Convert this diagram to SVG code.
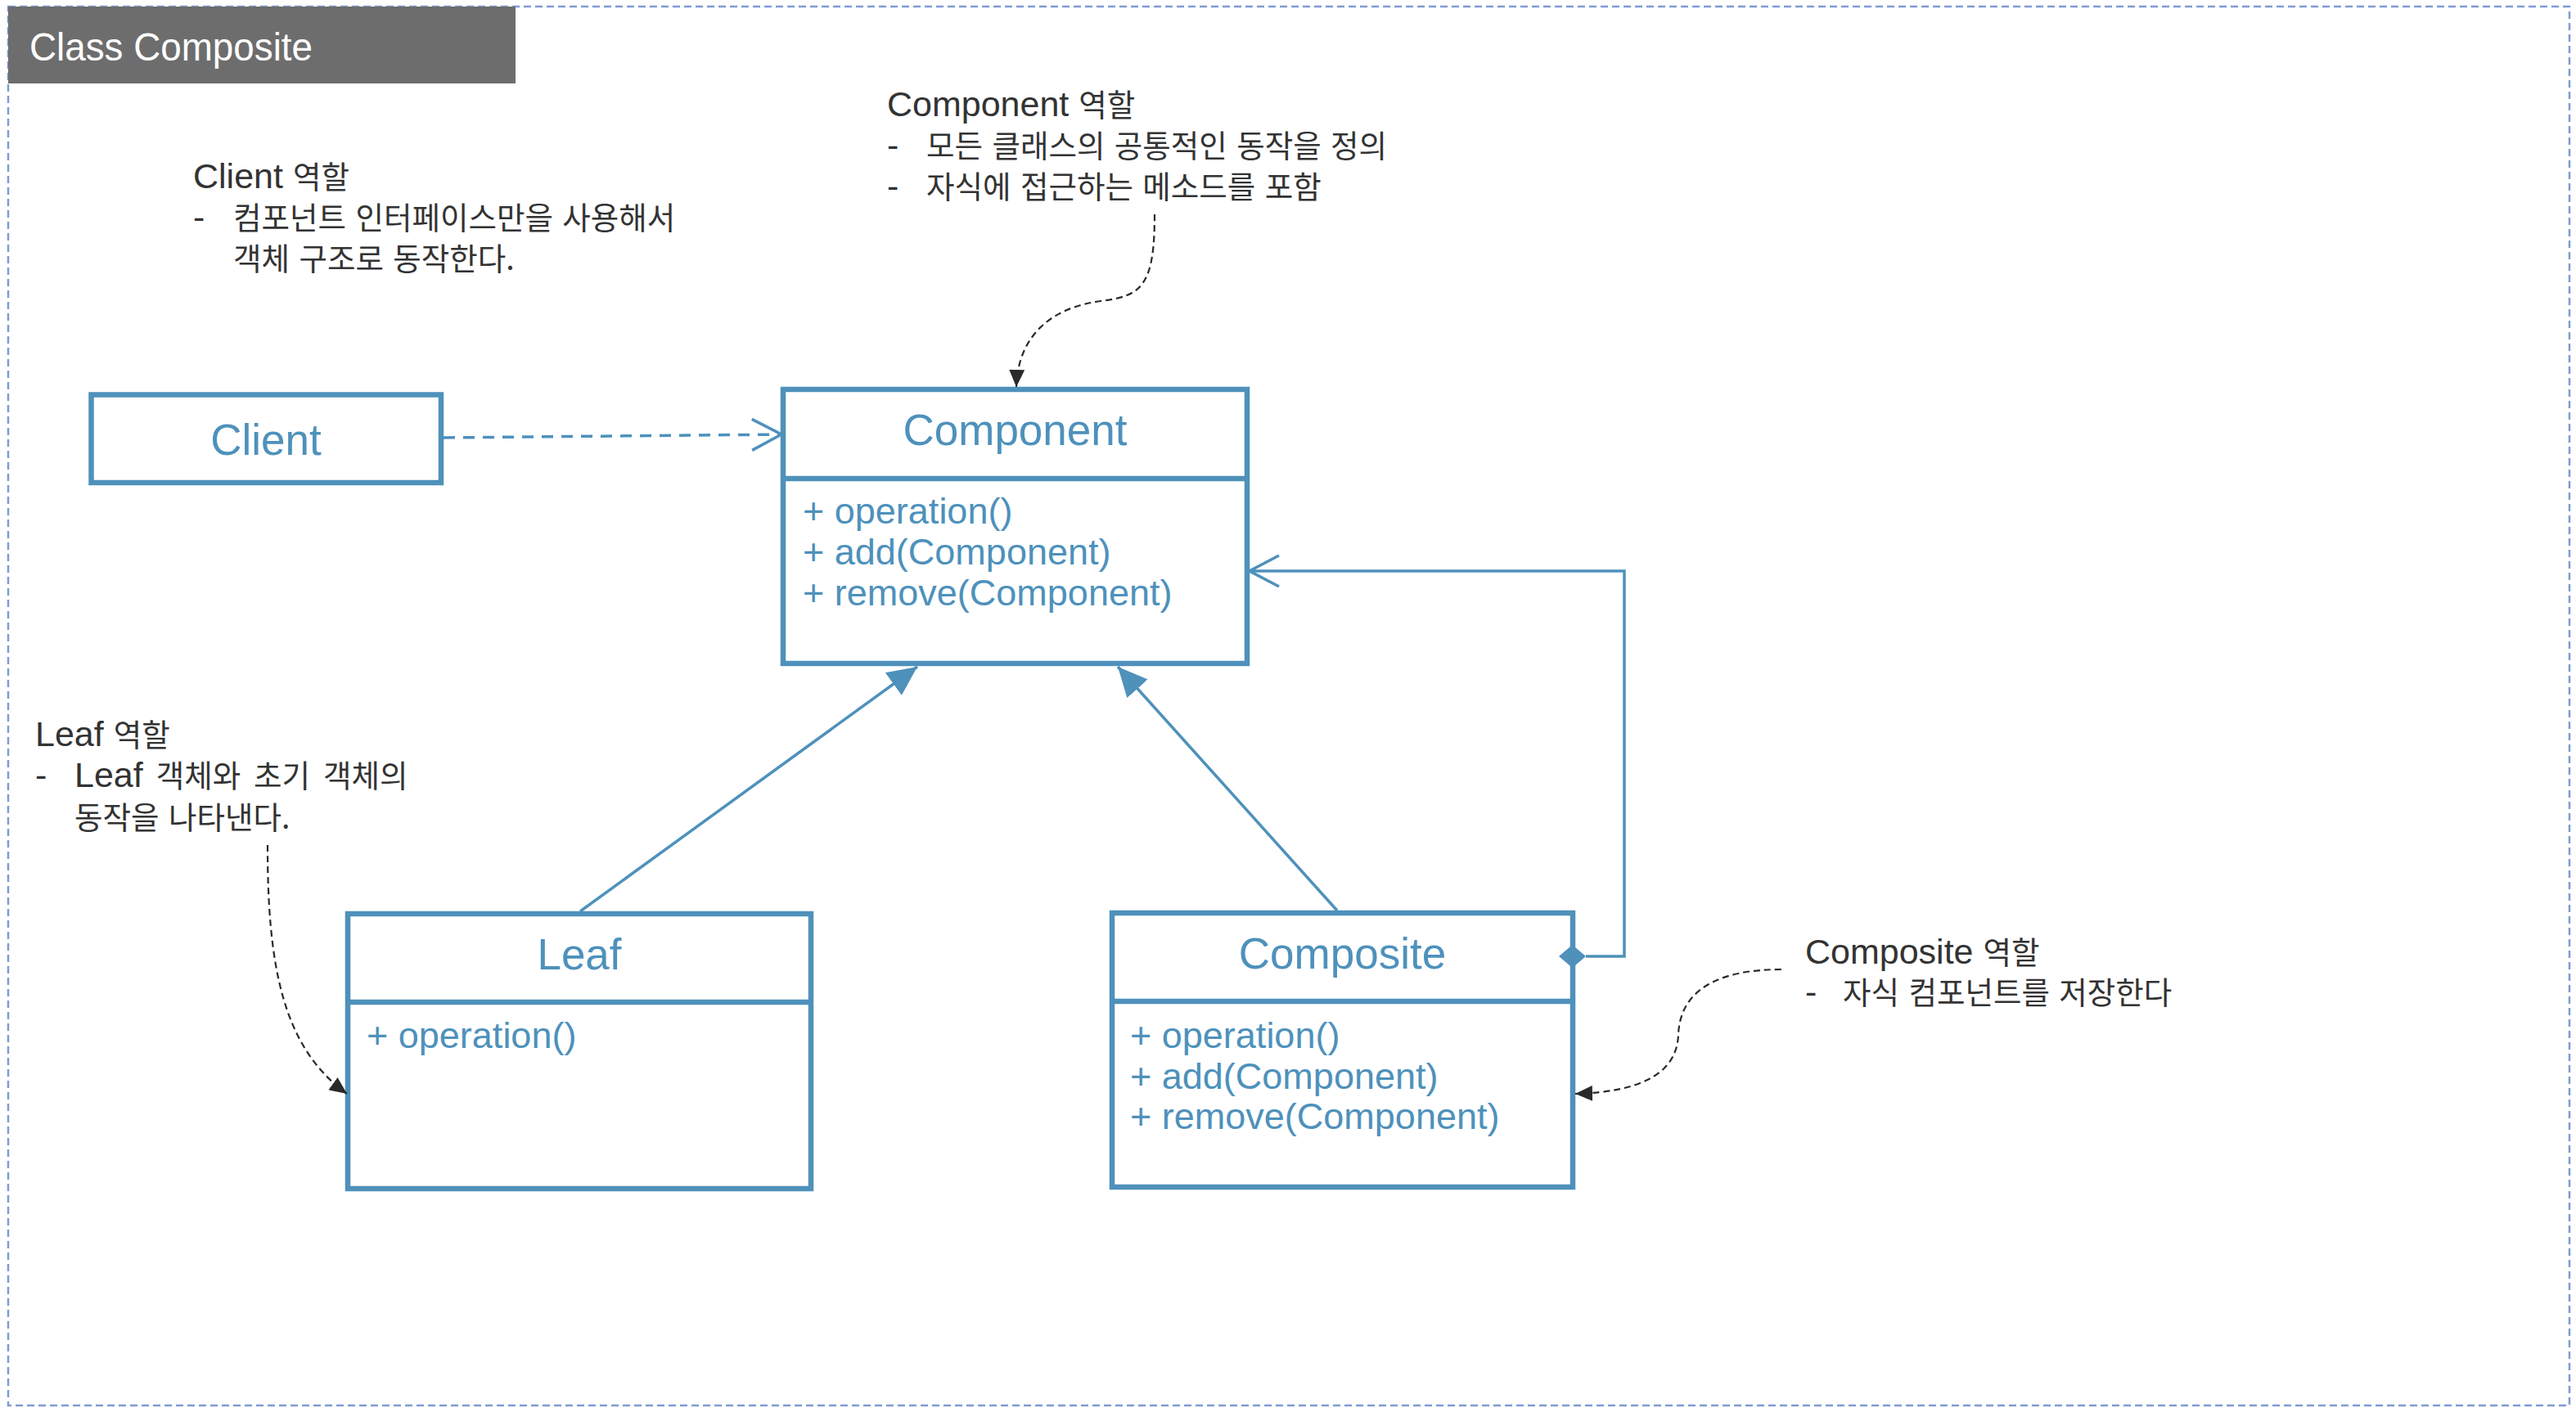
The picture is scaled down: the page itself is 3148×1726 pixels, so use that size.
<svg xmlns="http://www.w3.org/2000/svg" width="3148" height="1726" viewBox="0 0 3148 1726">
<style>
.box{fill:#fff;stroke:#4e91bb;stroke-width:6.5}
.div{stroke:#4e91bb;stroke-width:6.5}
.title{font-family:"Liberation Sans","Noto Sans CJK KR",sans-serif;font-size:53px;fill:#4e91bb;text-anchor:middle}
.meth{font-family:"Liberation Sans","Noto Sans CJK KR",sans-serif;font-size:45px;fill:#4e91bb}
.ann{font-family:"Liberation Sans","Noto Sans CJK KR",sans-serif;font-size:43px;fill:#333}
.k{font-family:"Noto Sans CJK KR",sans-serif;font-size:37.5px}
.kl{font-family:"Noto Sans CJK KR",sans-serif;font-size:37.5px;fill:#333;word-spacing:3px}
.conn{fill:none;stroke:#4e91bb;stroke-width:3.5}
.note{fill:none;stroke:#2a2a2a;stroke-width:2.2;stroke-dasharray:8 5}
</style>
<defs>
<marker id="tri" markerUnits="userSpaceOnUse" markerWidth="36" markerHeight="34" viewBox="0 0 36 34" refX="36" refY="17" orient="auto"><path d="M0,0 L36,17 L0,34 z" fill="#4e91bb"/></marker>
<marker id="open" markerUnits="userSpaceOnUse" markerWidth="42" markerHeight="44" viewBox="-3 -3 42 44" refX="36" refY="19" orient="auto"><path d="M0,0 L36,19 L0,38" fill="none" stroke="#4e91bb" stroke-width="3.5"/></marker>
<marker id="blk" markerUnits="userSpaceOnUse" markerWidth="21" markerHeight="19" viewBox="0 0 21 19" refX="21" refY="9.5" orient="auto"><path d="M0,0 L21,9.5 L0,19 z" fill="#2a2a2a"/></marker>
</defs>
<rect x="0" y="0" width="3148" height="1726" fill="#fff"/>
<g id="frame">
<rect x="10" y="8" width="3130" height="1710" fill="none" stroke="#7f9bd4" stroke-width="2.5" stroke-dasharray="9 5"/>
<rect x="10" y="8" width="620" height="94" fill="#6d6d6d"/>
<text x="36" y="74" font-family="Liberation Sans, sans-serif" font-size="49" fill="#fff" textLength="346" lengthAdjust="spacingAndGlyphs">Class Composite</text>
</g>
<g id="client">
<rect class="box" x="111.5" y="482.5" width="427.5" height="107.5"/>
<text class="title" x="325" y="556">Client</text>
</g>
<g id="component">
<rect class="box" x="957" y="476" width="567" height="335"/>
<line class="div" x1="957" y1="585" x2="1524" y2="585"/>
<text class="title" x="1240.5" y="544">Component</text>
<text class="meth" x="981" y="640">+ operation()</text>
<text class="meth" x="981" y="690">+ add(Component)</text>
<text class="meth" x="981" y="740">+ remove(Component)</text>
</g>
<g id="leaf">
<rect class="box" x="425" y="1117" width="566" height="336"/>
<line class="div" x1="425" y1="1225" x2="991" y2="1225"/>
<text class="title" x="708" y="1185">Leaf</text>
<text class="meth" x="448" y="1281">+ operation()</text>
</g>
<g id="composite">
<rect class="box" x="1359" y="1116" width="563" height="335"/>
<line class="div" x1="1359" y1="1224" x2="1922" y2="1224"/>
<text class="title" x="1640.5" y="1184">Composite</text>
<text class="meth" x="1381" y="1281">+ operation()</text>
<text class="meth" x="1381" y="1331">+ add(Component)</text>
<text class="meth" x="1381" y="1380">+ remove(Component)</text>
</g>
<g id="connectors">
<path class="conn" d="M542,535 L955,531" stroke-dasharray="14 10" marker-end="url(#open)"/>
<path class="conn" d="M709,1114 L1121,815" marker-end="url(#tri)"/>
<path class="conn" d="M1634,1113 L1366,815" marker-end="url(#tri)"/>
<path class="conn" d="M1938,1169 L1985,1169 L1985,698 L1527,698" marker-end="url(#open)"/>
<polygon points="1905,1169 1921.5,1155 1938,1169 1921.5,1183" fill="#4e91bb"/>
<path class="note" d="M1411,262 C1411,350 1395,362 1345,368 C1285,376 1244,410 1242,473" marker-end="url(#blk)"/>
<path class="note" d="M327,1033 C327,1180 345,1280 424,1337" marker-end="url(#blk)"/>
<path class="note" d="M2177,1185 C2100,1185 2053,1210 2051,1265 C2049,1315 2000,1335 1925,1337" marker-end="url(#blk)"/>
</g>
<g id="note-client">
<text class="ann" x="236" y="230">Client <tspan class="k">역할</tspan></text>
<text class="ann" x="236" y="280">-</text>
<text class="kl" x="285" y="280">컴포넌트 인터페이스만을 사용해서</text>
<text class="kl" x="285" y="330">객체 구조로 동작한다.</text>
</g>
<g id="note-component">
<text class="ann" x="1084" y="142">Component <tspan class="k">역할</tspan></text>
<text class="ann" x="1084" y="192">-</text>
<text class="kl" x="1132" y="192">모든 클래스의 공통적인 동작을 정의</text>
<text class="ann" x="1084" y="242">-</text>
<text class="kl" x="1132" y="242">자식에 접근하는 메소드를 포함</text>
</g>
<g id="note-leaf">
<text class="ann" x="43" y="912">Leaf <tspan class="k">역할</tspan></text>
<text class="ann" x="43" y="962">-</text>
<text class="ann" x="91" y="962" word-spacing="4">Leaf <tspan class="k">객체와</tspan> <tspan class="k">초기</tspan> <tspan class="k">객체의</tspan></text>
<text class="kl" x="91" y="1013">동작을 나타낸다.</text>
</g>
<g id="note-composite">
<text class="ann" x="2206" y="1178">Composite <tspan class="k">역할</tspan></text>
<text class="ann" x="2206" y="1227">-</text>
<text class="kl" x="2252" y="1227">자식 컴포넌트를 저장한다</text>
</g>
</svg>
